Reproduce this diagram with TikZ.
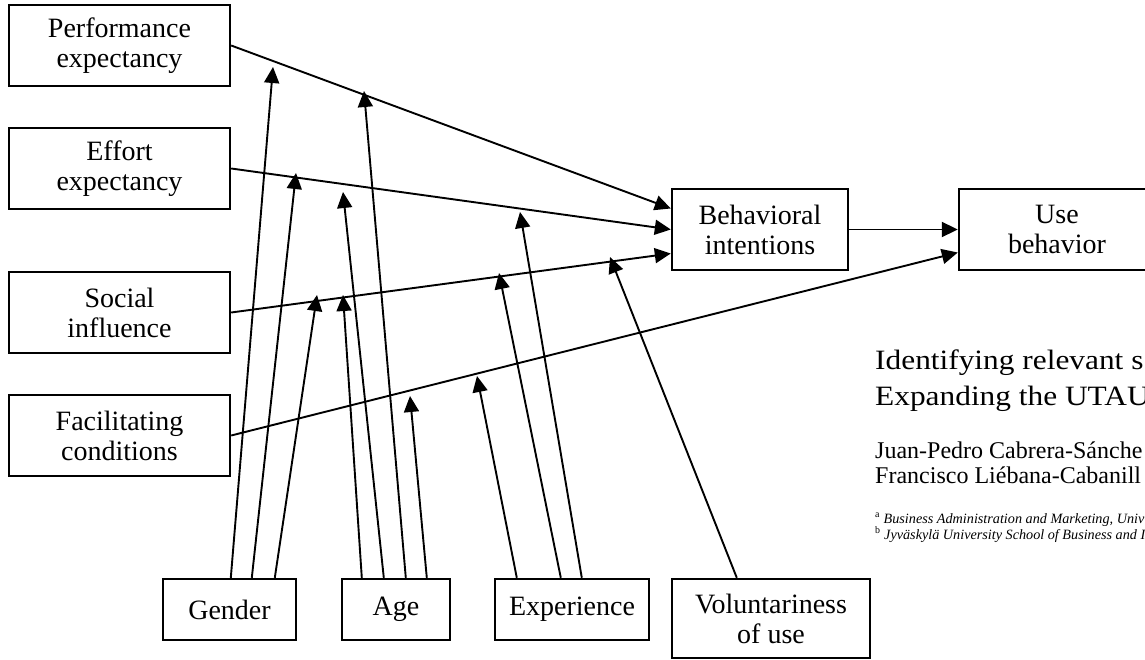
\documentclass[tikz,border=0pt]{standalone}
\usepackage{fontspec}
\setmainfont{Liberation Serif}
\usetikzlibrary{arrows.meta,calc}
\begin{document}
\begin{tikzpicture}[x=1pt,y=-1pt,
  box/.style={draw, line width=2.4pt, align=center, inner sep=0pt,
    font=\fontsize{28}{30}\selectfont},
  conn/.style={line width=1.9pt, -{Triangle[length=16pt,width=15pt]}},
  titletext/.style={anchor=base west, inner sep=0pt, font=\fontsize{28}{32}\selectfont},
  authtext/.style={anchor=base west, inner sep=0pt, font=\fontsize{24}{28}\selectfont},
  afftext/.style={anchor=base west, inner sep=0pt, font=\fontsize{14.2}{16}\selectfont},
  ]
\useasboundingbox (0,0) rectangle (1145,660);
\fill[white] (0,0) rectangle (1145,660);
\clip (0,0) rectangle (1145,660);

% constructs
\node[box, minimum width=221pt, minimum height=81pt] (PE) at (119.5,45.5) {Performance\\expectancy};
\node[box, minimum width=221pt, minimum height=81pt] (EE) at (119.5,168.5) {Effort\\expectancy};
\node[box, minimum width=221pt, minimum height=81pt] (SI) at (119.5,312.5) {Social\\influence};
\node[box, minimum width=221pt, minimum height=81pt] (FC) at (119.5,435.5) {Facilitating\\conditions};
\node[box, minimum width=176pt, minimum height=81pt] (BI) at (760,229.5) {Behavioral\\intentions};
\node[box, minimum width=196pt, minimum height=81pt] (UB) at (1057,229.5) {Use\\behavior};

% moderators
\node[box, minimum width=133pt, minimum height=61pt] (G) at (229.5,609.5) {Gender};
\node[box, minimum width=108pt, minimum height=61pt] (A) at (396,609.5) {Age};
\node[box, minimum width=154pt, minimum height=61pt] (X) at (572,609.5) {Experience};
\node[box, minimum width=198pt, minimum height=79pt] (V) at (771,618.5) {Voluntariness\\of use};

% main paths
\draw[conn] (PE.east) -- ($(BI.west)+(0,-21)$);
\draw[conn] (EE.east) -- (BI.west);
\draw[conn] (SI.east) -- ($(BI.west)+(0,24)$);
\draw[conn] (BI.east) -- (UB.west);
\draw[conn] (FC.east) -- ($(UB.west)+(0,23)$);

% moderator arrow tips
\coordinate (tg1) at (273,67);
\coordinate (tg2) at (296,173);
\coordinate (tg3) at (317,295);
\coordinate (ta1) at (343,295);
\coordinate (ta2) at (343,192);
\coordinate (ta3) at (364,91);
\coordinate (ta4) at (410,396);
\coordinate (te1) at (477,376);
\coordinate (te2) at (499,273);
\coordinate (te3) at (520,212);
\coordinate (tv)  at (610,257);

\draw[conn] ($(G.north west)+(69,0)$) -- (tg1);
\draw[conn] ($(G.north west)+(90,0)$) -- (tg2);
\draw[conn] ($(G.north west)+(113,0)$) -- (tg3);
\draw[conn] ($(A.north west)+(21,0)$) -- (ta1);
\draw[conn] ($(A.north west)+(43,0)$) -- (ta2);
\draw[conn] ($(A.north west)+(65,0)$) -- (ta3);
\draw[conn] ($(A.north west)+(86,0)$) -- (ta4);
\draw[conn] ($(X.north west)+(23,0)$) -- (te1);
\draw[conn] ($(X.north west)+(67,0)$) -- (te2);
\draw[conn] ($(X.north west)+(88,0)$) -- (te3);
\draw[conn] ($(V.north west)+(66,0)$) -- (tv);

% article header on the right
\node[titletext] (title1) at (875,369) {\scalebox{1.12}[1]{Identifying relevant s}};
\node[titletext] (title2) at (875,405) {\scalebox{1.12}[1]{Expanding the UTAU}};
\node[authtext] (auth1) at (875,458) {Juan-Pedro Cabrera-Sánche};
\node[authtext] (auth2) at (875,483) {Francisco Liébana-Cabanill};
\node[afftext] (aff1) at (875,523) {\textsuperscript{a} \textit{Business Administration and Marketing, Univ}};
\node[afftext] (aff2) at (875,539) {\textsuperscript{b} \textit{Jyväskylä University School of Business and I}};
\end{tikzpicture}
\end{document}
